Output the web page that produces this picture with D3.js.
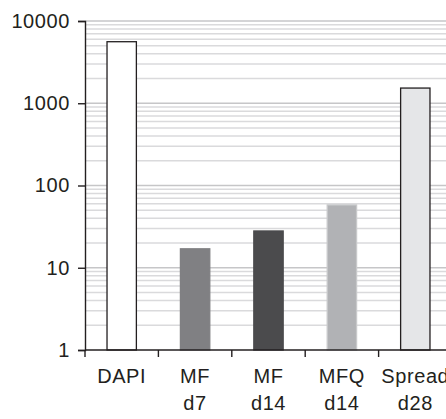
<!DOCTYPE html>
<html>
<head>
<meta charset="utf-8">
<script src="https://cdn.jsdelivr.net/npm/d3@7"></script>
<style>
  body { margin: 0; background: #fff; }
  svg { display: block; }
  text { font-family: "Liberation Sans", Arial, sans-serif; fill: #231f20; }
</style>
</head>
<body>
<div id="chart"></div>
<script>
var categories = ["DAPI", "MF d7", "MF d14", "MFQ d14", "Spread d28"];
var labelLines = [["DAPI"], ["MF", "d7"], ["MF", "d14"], ["MFQ", "d14"], ["Spread", "d28"]];
var values = [5600, 17, 28, 58, 1530];
var fills = ["#ffffff", "#808083", "#4b4b4d", "#b1b2b5", "#e5e6e8"];
var strokes = ["#231f20", "#808083", "#4b4b4d", "#c8c9cb", "#231f20"];
var yTicks = [1, 10, 100, 1000, 10000];

var width = 446, height = 419;
var plotLeft = 85, plotTop = 21, plotBottom = 350, plotRight = 452;

var svg = d3.select("#chart").append("svg")
  .attr("width", width)
  .attr("height", height);

var x = d3.scaleBand()
  .domain(categories)
  .range([plotLeft, plotRight])
  .paddingInner(0.6)
  .paddingOuter(0.3);

var y = d3.scaleLog()
  .domain([1, 10000])
  .range([plotBottom, plotTop]);

// gridlines, minor ones at 2..9 of each decade
var grid = [];
for (var p = 0; p < 4; p++) {
  for (var m = 2; m <= 10; m++) grid.push(m * Math.pow(10, p));
}
svg.append("g").selectAll("line")
  .data(grid)
  .enter().append("line")
  .attr("x1", plotLeft)
  .attr("x2", width)
  .attr("y1", function(d) { return y(d); })
  .attr("y2", function(d) { return y(d); })
  .attr("stroke", function(d) { return yTicks.indexOf(d) >= 0 ? "#c6c6c8" : "#dadadc"; })
  .attr("stroke-width", 1.5);

// bars
svg.append("g").selectAll("rect")
  .data(values)
  .enter().append("rect")
  .attr("x", function(d, i) { return x(categories[i]); })
  .attr("width", x.bandwidth())
  .attr("y", function(d) { return y(d); })
  .attr("height", function(d) { return y(1) - y(d); })
  .attr("fill", function(d, i) { return fills[i]; })
  .attr("stroke", function(d, i) { return strokes[i]; })
  .attr("stroke-width", 1.3);

// y axis
var yAxis = d3.axisLeft(y)
  .tickValues(yTicks)
  .tickFormat(d3.format("d"))
  .tickSize(7)
  .tickPadding(8);
var gy = svg.append("g")
  .attr("transform", "translate(" + plotLeft + ",0)")
  .call(yAxis);
gy.select(".domain").attr("stroke", "#231f20").attr("stroke-width", 1.4);
gy.selectAll(".tick line").attr("stroke", "#231f20").attr("stroke-width", 1.4);
gy.selectAll(".tick text")
  .attr("font-size", "20px")
  .attr("letter-spacing", "0.6px")
  .attr("fill", "#231f20")
  .style("font-family", "'Liberation Sans', Arial, sans-serif");

// x axis line and boundary ticks
svg.append("line")
  .attr("x1", plotLeft).attr("x2", width)
  .attr("y1", plotBottom).attr("y2", plotBottom)
  .attr("stroke", "#231f20").attr("stroke-width", 1.4);

var bounds = d3.range(categories.length).map(function(i) { return plotLeft + i * x.step(); });
svg.append("g").selectAll("line")
  .data(bounds)
  .enter().append("line")
  .attr("x1", function(d) { return d; })
  .attr("x2", function(d) { return d; })
  .attr("y1", plotBottom)
  .attr("y2", plotBottom + 7)
  .attr("stroke", "#231f20")
  .attr("stroke-width", 1.4);

// x labels
var lab = svg.append("g").selectAll("text")
  .data(labelLines)
  .enter().append("text")
  .attr("text-anchor", "middle")
  .attr("font-size", "20px")
  .attr("letter-spacing", "0.6px")
  .attr("x", function(d, i) { return x(categories[i]) + x.bandwidth() / 2; })
  .attr("y", 383);
lab.selectAll("tspan")
  .data(function(d) { return d; })
  .enter().append("tspan")
  .attr("x", function() { return d3.select(this.parentNode).attr("x"); })
  .attr("dy", function(d, i) { return i === 0 ? 0 : 27; })
  .text(function(d) { return d; });
</script>
</body>
</html>
